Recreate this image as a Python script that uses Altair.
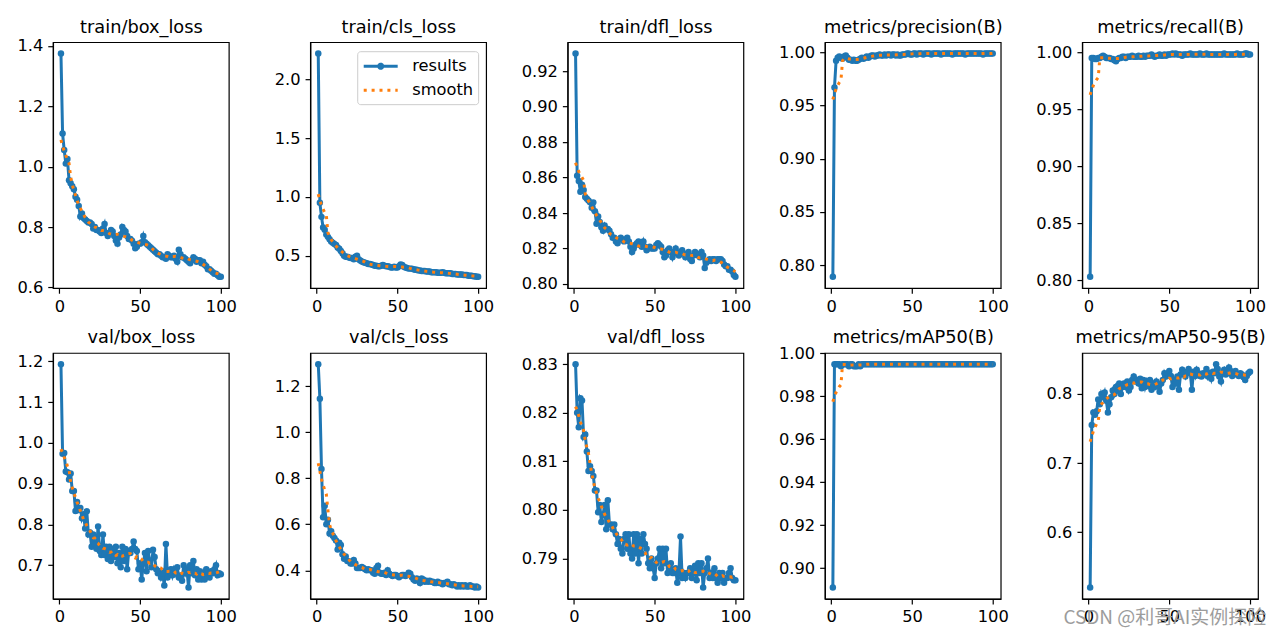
import altair as alt
import pandas as pd

epochs = list(range(1, 101))

titles = ["train/box_loss", "train/cls_loss", "train/dfl_loss", "metrics/precision(B)", "metrics/recall(B)",
          "val/box_loss", "val/cls_loss", "val/dfl_loss", "metrics/mAP50(B)", "metrics/mAP50-95(B)"]

train_box_loss = [
    1.375, 1.11, 1.055, 1.01, 1.025, 0.955, 0.945, 0.935, 0.925, 0.90,
    0.89, 0.87, 0.835, 0.845, 0.83, 0.825, 0.82, 0.815, 0.815, 0.81,
    0.795, 0.80, 0.79, 0.79, 0.785, 0.78, 0.795, 0.81, 0.78, 0.77,
    0.78, 0.79, 0.785, 0.77, 0.755, 0.745, 0.765, 0.775, 0.80, 0.79,
    0.785, 0.77, 0.76, 0.76, 0.755, 0.745, 0.73, 0.735, 0.745, 0.745,
    0.75, 0.77, 0.75, 0.745, 0.74, 0.735, 0.73, 0.725, 0.72, 0.715,
    0.71, 0.71, 0.705, 0.70, 0.70, 0.695, 0.71, 0.705, 0.70, 0.70,
    0.705, 0.695, 0.685, 0.725, 0.71, 0.70, 0.70, 0.695, 0.69, 0.685,
    0.68, 0.69, 0.70, 0.695, 0.685, 0.69, 0.69, 0.68, 0.685, 0.675,
    0.67, 0.66, 0.66, 0.655, 0.65, 0.645, 0.645, 0.64, 0.635, 0.635]

train_cls_loss = [
    2.22, 0.95, 0.83, 0.74, 0.72, 0.68, 0.66, 0.64, 0.62, 0.61,
    0.60, 0.59, 0.57, 0.56, 0.54, 0.52, 0.50, 0.49, 0.49, 0.485,
    0.48, 0.48, 0.47, 0.49, 0.50, 0.47, 0.46, 0.45, 0.445, 0.44,
    0.435, 0.43, 0.43, 0.425, 0.42, 0.415, 0.415, 0.41, 0.41, 0.415,
    0.42, 0.415, 0.41, 0.41, 0.405, 0.40, 0.40, 0.405, 0.40, 0.40,
    0.41, 0.425, 0.42, 0.405, 0.40, 0.395, 0.39, 0.39, 0.39, 0.385,
    0.38, 0.38, 0.375, 0.375, 0.37, 0.37, 0.37, 0.365, 0.365, 0.365,
    0.36, 0.36, 0.36, 0.36, 0.355, 0.355, 0.355, 0.36, 0.355, 0.35,
    0.35, 0.35, 0.35, 0.345, 0.345, 0.345, 0.34, 0.34, 0.34, 0.34,
    0.335, 0.335, 0.335, 0.33, 0.33, 0.33, 0.325, 0.325, 0.32, 0.32]

train_dfl_loss = [
    0.930, 0.861, 0.858, 0.852, 0.856, 0.853, 0.849, 0.848, 0.847, 0.846,
    0.843, 0.846, 0.841, 0.834, 0.838, 0.835, 0.832, 0.830, 0.833, 0.831,
    0.831, 0.830, 0.828, 0.826, 0.826, 0.824, 0.823, 0.825, 0.826, 0.825,
    0.824, 0.825, 0.826, 0.824, 0.821, 0.818, 0.820, 0.822, 0.823, 0.824,
    0.822, 0.821, 0.824, 0.821, 0.819, 0.820, 0.821, 0.820, 0.820, 0.820,
    0.822, 0.823, 0.822, 0.821, 0.818, 0.815, 0.816, 0.819, 0.820, 0.818,
    0.815, 0.818, 0.820, 0.817, 0.816, 0.818, 0.819, 0.817, 0.815, 0.817,
    0.818, 0.814, 0.813, 0.816, 0.818, 0.817, 0.816, 0.815, 0.818, 0.816,
    0.809, 0.812, 0.813, 0.814, 0.813, 0.814, 0.814, 0.813, 0.814, 0.814,
    0.814, 0.813, 0.811, 0.810, 0.810, 0.808, 0.808, 0.807, 0.805, 0.804]

precision = [
    0.789, 0.967, 0.992, 0.995, 0.996, 0.995, 0.994, 0.996, 0.997, 0.995,
    0.993, 0.993, 0.992, 0.993, 0.992, 0.992, 0.993, 0.994, 0.995, 0.994,
    0.995, 0.996, 0.995, 0.996, 0.997, 0.997, 0.996, 0.997, 0.997, 0.998,
    0.997, 0.997, 0.998, 0.997, 0.998, 0.998, 0.997, 0.998, 0.998, 0.997,
    0.998, 0.997, 0.997, 0.998, 0.998, 0.998, 0.999, 0.999, 0.998, 0.998,
    0.999, 0.999, 0.998, 0.999, 0.999, 0.999, 0.998, 0.999, 0.999, 0.999,
    0.999, 0.998, 0.999, 0.999, 0.999, 0.999, 0.999, 0.998, 0.999, 0.999,
    0.999, 0.999, 0.999, 0.999, 0.998, 0.999, 0.999, 0.999, 0.999, 0.999,
    0.999, 0.999, 0.998, 0.999, 0.999, 0.999, 0.999, 0.999, 0.999, 0.999,
    0.999, 0.999, 0.999, 0.998, 0.999, 0.999, 0.999, 0.999, 0.999, 0.999]

recall = [
    0.803, 0.995, 0.995, 0.994, 0.994, 0.995, 0.995, 0.996, 0.997, 0.996,
    0.995, 0.995, 0.995, 0.994, 0.994, 0.993, 0.992, 0.994, 0.995, 0.995,
    0.996, 0.996, 0.995, 0.996, 0.996, 0.996, 0.997, 0.996, 0.996, 0.996,
    0.997, 0.996, 0.996, 0.997, 0.996, 0.997, 0.997, 0.997, 0.998, 0.997,
    0.996, 0.997, 0.997, 0.998, 0.997, 0.997, 0.998, 0.997, 0.998, 0.998,
    0.998, 0.999, 0.998, 0.999, 0.998, 0.998, 0.998, 0.997, 0.998, 0.998,
    0.998, 0.998, 0.999, 0.998, 0.998, 0.998, 0.998, 0.998, 0.999, 0.998,
    0.998, 0.998, 0.999, 0.998, 0.998, 0.998, 0.998, 0.998, 0.998, 0.998,
    0.998, 0.998, 0.998, 0.999, 0.998, 0.998, 0.998, 0.998, 0.998, 0.998,
    0.998, 0.999, 0.998, 0.998, 0.998, 0.998, 0.999, 0.999, 0.998, 0.998]

val_box_loss = [
    1.193, 0.973, 0.975, 0.93, 0.928, 0.91, 0.925, 0.882, 0.882, 0.833,
    0.855, 0.835, 0.84, 0.815, 0.825, 0.79, 0.832, 0.775, 0.78, 0.745,
    0.775, 0.75, 0.74, 0.795, 0.735, 0.725, 0.775, 0.725, 0.745, 0.715,
    0.745, 0.71, 0.74, 0.72, 0.745, 0.705, 0.73, 0.695, 0.745, 0.71,
    0.74, 0.69, 0.735, 0.73, 0.74, 0.758, 0.74, 0.735, 0.69, 0.705,
    0.665, 0.705, 0.73, 0.685, 0.735, 0.71, 0.695, 0.738, 0.72, 0.69,
    0.68, 0.685, 0.67, 0.68, 0.65, 0.752, 0.67, 0.685, 0.69, 0.675,
    0.69, 0.68, 0.695, 0.67, 0.675, 0.662, 0.70, 0.68, 0.69, 0.645,
    0.70, 0.68, 0.71, 0.675, 0.69, 0.665, 0.685, 0.665, 0.68, 0.665,
    0.69, 0.675, 0.67, 0.685, 0.68, 0.69, 0.70, 0.675, 0.68, 0.678]

val_cls_loss = [
    1.295, 1.145, 0.84, 0.63, 0.68, 0.60, 0.62, 0.56, 0.57, 0.55,
    0.54, 0.53, 0.49, 0.52, 0.51, 0.47, 0.45, 0.46, 0.44, 0.44,
    0.43, 0.43, 0.445, 0.43, 0.41, 0.41, 0.41, 0.415, 0.41, 0.405,
    0.40, 0.405, 0.40, 0.40, 0.39, 0.385, 0.41, 0.42, 0.39, 0.385,
    0.385, 0.39, 0.38, 0.40, 0.385, 0.38, 0.375, 0.38, 0.38, 0.375,
    0.37, 0.375, 0.38, 0.38, 0.375, 0.38, 0.39, 0.385, 0.37, 0.36,
    0.355, 0.365, 0.36, 0.345, 0.365, 0.36, 0.35, 0.355, 0.35, 0.355,
    0.35, 0.35, 0.345, 0.345, 0.35, 0.345, 0.345, 0.34, 0.345, 0.345,
    0.35, 0.34, 0.34, 0.335, 0.34, 0.335, 0.33, 0.335, 0.33, 0.335,
    0.33, 0.335, 0.33, 0.33, 0.335, 0.33, 0.33, 0.325, 0.33, 0.325]

val_dfl_loss = [
    0.830, 0.820, 0.817, 0.823, 0.8225, 0.815, 0.8155, 0.812, 0.808, 0.809,
    0.808, 0.807, 0.804, 0.804, 0.7995, 0.801, 0.7975, 0.799, 0.801, 0.796,
    0.802, 0.797, 0.797, 0.796, 0.797, 0.795, 0.793, 0.794, 0.792, 0.791,
    0.794, 0.795, 0.792, 0.795, 0.791, 0.790, 0.795, 0.791, 0.795, 0.789,
    0.794, 0.791, 0.795, 0.793, 0.792, 0.789, 0.788, 0.790, 0.788, 0.786,
    0.789, 0.790, 0.792, 0.788, 0.792, 0.789, 0.792, 0.787, 0.788, 0.789,
    0.787, 0.787, 0.788, 0.785, 0.787, 0.7945, 0.786, 0.787, 0.786, 0.787,
    0.787, 0.788, 0.786, 0.787, 0.7885, 0.7855, 0.789, 0.787, 0.789, 0.784,
    0.787, 0.788, 0.790, 0.786, 0.787, 0.786, 0.788, 0.786, 0.785, 0.787,
    0.786, 0.787, 0.785, 0.786, 0.786, 0.787, 0.788, 0.786, 0.7855, 0.7855]

map50 = [
    0.891, 0.995, 0.995, 0.995, 0.995, 0.994, 0.995, 0.995, 0.995, 0.995,
    0.994, 0.995, 0.995, 0.994, 0.994, 0.994, 0.995, 0.994, 0.995, 0.995,
    0.995, 0.995, 0.995, 0.995, 0.995, 0.995, 0.995, 0.995, 0.995, 0.995,
    0.995, 0.995, 0.995, 0.995, 0.995, 0.995, 0.995, 0.995, 0.995, 0.995,
    0.995, 0.995, 0.995, 0.995, 0.995, 0.995, 0.995, 0.995, 0.995, 0.995,
    0.995, 0.995, 0.995, 0.995, 0.995, 0.995, 0.995, 0.995, 0.995, 0.995,
    0.995, 0.995, 0.995, 0.995, 0.995, 0.995, 0.995, 0.995, 0.995, 0.995,
    0.995, 0.995, 0.995, 0.995, 0.995, 0.995, 0.995, 0.995, 0.995, 0.995,
    0.995, 0.995, 0.995, 0.995, 0.995, 0.995, 0.995, 0.995, 0.995, 0.995,
    0.995, 0.995, 0.995, 0.995, 0.995, 0.995, 0.995, 0.995, 0.995, 0.995]

map50_95 = [
    0.52, 0.755, 0.773, 0.77, 0.775, 0.792, 0.785, 0.80, 0.795, 0.802,
    0.79, 0.773, 0.785, 0.795, 0.805, 0.80, 0.81, 0.805, 0.815, 0.80,
    0.81, 0.815, 0.81, 0.818, 0.805, 0.81, 0.82, 0.825, 0.818, 0.82,
    0.815, 0.822, 0.808, 0.82, 0.81, 0.818, 0.812, 0.82, 0.806, 0.815,
    0.81, 0.818, 0.812, 0.803, 0.815, 0.82, 0.83, 0.825, 0.83, 0.833,
    0.826, 0.81, 0.82, 0.815, 0.825, 0.806, 0.828, 0.835, 0.83, 0.825,
    0.832, 0.836, 0.83, 0.806, 0.832, 0.826, 0.835, 0.83, 0.826, 0.825,
    0.83, 0.828, 0.836, 0.825, 0.83, 0.822, 0.832, 0.83, 0.843, 0.836,
    0.825, 0.818, 0.83, 0.835, 0.828, 0.83, 0.838, 0.833, 0.826, 0.83,
    0.833, 0.828, 0.826, 0.83, 0.828, 0.824, 0.82, 0.826, 0.83, 0.832]

series_values = [train_box_loss, train_cls_loss, train_dfl_loss, precision, recall,
                 val_box_loss, val_cls_loss, val_dfl_loss, map50, map50_95]

y_ticks = [
    [0.6, 0.8, 1.0, 1.2, 1.4],
    [0.5, 1.0, 1.5, 2.0],
    [0.80, 0.82, 0.84, 0.86, 0.88, 0.90, 0.92],
    [0.80, 0.85, 0.90, 0.95, 1.00],
    [0.80, 0.85, 0.90, 0.95, 1.00],
    [0.7, 0.8, 0.9, 1.0, 1.1, 1.2],
    [0.4, 0.6, 0.8, 1.0, 1.2],
    [0.79, 0.80, 0.81, 0.82, 0.83],
    [0.90, 0.92, 0.94, 0.96, 0.98, 1.00],
    [0.6, 0.7, 0.8],
]
y_formats = [".1f", ".1f", ".2f", ".2f", ".2f", ".1f", ".1f", ".2f", ".2f", ".1f"]
x_ticks = [0, 50, 100]
legend_labels = ["results", "smooth"]

BLUE = "#1f77b4"
ORANGE = "#ff7f0e"
FONT = "DejaVu Sans"

# legend handles: a long line (with a dot for "results"), offset so it starts at the symbol column
RESULT_SYMBOL = "M-1,0H3M1.24,0A0.24,0.24,0,1,1,0.76,0A0.24,0.24,0,1,1,1.24,0"
SMOOTH_SYMBOL = "M-1,0H3"


def panel(idx):
    values = series_values[idx]
    df = pd.DataFrame({"epoch": epochs, "value": values})
    lo, hi = min(values), max(values)
    pad = (hi - lo) * 0.05
    yscale = alt.Scale(domain=[lo - pad, hi + pad], nice=False, zero=False)
    xscale = alt.Scale(domain=[-3.95, 104.95], nice=False, zero=False)
    x_bottom = alt.X("epoch:Q", scale=xscale, axis=alt.Axis(values=x_ticks, format="d", title=None))
    x_top = alt.X("epoch:Q", scale=xscale, axis=alt.Axis(
        orient="top", title=titles[idx], labels=False, ticks=False, domain=False,
        titleFontSize=17.8, titleFontWeight="normal", titleFont=FONT, titleColor="black",
        titlePadding=6, titleLimit=400))
    x_none = alt.X("epoch:Q", scale=xscale, axis=None)
    yaxis = alt.Axis(values=y_ticks[idx], format=y_formats[idx], title=None)
    y_val = alt.Y("value:Q", scale=yscale, axis=yaxis)

    if idx == 1:
        leg = alt.Legend(
            title=None, orient="top-right", offset=8.5, padding=5, rowPadding=5,
            symbolSize=289, symbolStrokeWidth=3, symbolOpacity=1,
            labelFontSize=16.3, labelFont=FONT, labelColor="black", labelOffset=30,
            fillColor="rgba(255,255,255,0.8)", strokeColor="#cccccc", cornerRadius=3,
        )
    else:
        leg = None

    color = alt.Color("series:N", scale=alt.Scale(domain=legend_labels, range=[BLUE, ORANGE]), legend=leg)
    dash = alt.StrokeDash("series:N", scale=alt.Scale(domain=legend_labels, range=[[1, 0], [3, 4.9]]), legend=leg)
    shape = alt.Shape("series:N", scale=alt.Scale(domain=legend_labels, range=[RESULT_SYMBOL, SMOOTH_SYMBOL]),
                      legend=leg)

    base = alt.Chart(df).transform_window(
        smooth="mean(value)", frame=[-5, 5], sort=[alt.SortField("epoch")]
    )
    res_line = base.transform_calculate(series="'results'").mark_line(strokeWidth=3).encode(
        x=x_bottom, y=y_val, color=color, strokeDash=dash
    )
    pts = base.mark_point(filled=True, size=42, opacity=1, color=BLUE).encode(
        x=x_none, y=y_val
    )
    smooth_line = base.transform_calculate(series="'smooth'").mark_line(strokeWidth=3).encode(
        x=x_top, y=alt.Y("smooth:Q", scale=yscale, axis=yaxis), color=color, strokeDash=dash
    )
    layers = [res_line, pts, smooth_line]
    if idx == 1:
        ghost = base.transform_filter("datum.epoch == 1").transform_calculate(series="'results'").mark_point(
            opacity=0, filled=False, strokeWidth=3
        ).encode(
            x=x_none, y=y_val, color=color, strokeDash=dash, shape=shape
        )
        layers.append(ghost)
    return alt.layer(*layers).resolve_axis(x="independent").properties(width=176, height=246)


charts = [panel(i) for i in range(10)]

chart = alt.concat(
    *charts, columns=5, spacing={"row": 65, "column": 81.5}, bounds="flush",
    title=alt.TitleParams("CSDN @利哥AI实例探险", orient="bottom", anchor="end",
                          font="Noto Sans CJK SC", fontSize=19, fontWeight="normal",
                          color="#9c9c9c", offset=-17),
).resolve_scale(color="independent", strokeDash="independent", shape="independent").properties(
    padding={"left": 8, "top": 9, "right": 5, "bottom": 3},
    background="white",
).configure_view(
    stroke="black", strokeWidth=1.2
).configure_axis(
    domainColor="black", domainWidth=1.2, tickColor="black", tickWidth=1.2, tickSize=5.2,
    labelColor="black", labelFont=FONT, labelFontSize=16.3, labelPadding=5, grid=False,
)

chart.save("out.html", embed_options={"renderer": "svg", "actions": False})
